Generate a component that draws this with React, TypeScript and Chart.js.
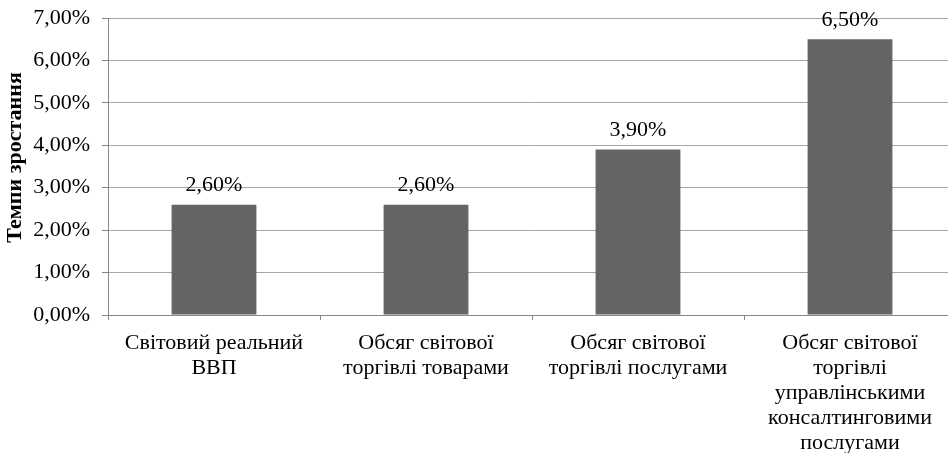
import React, { useEffect, useRef } from "react";
import { Chart, registerables } from "chart.js";

Chart.register(...registerables);

const categories: string[][] = [
  ["Світовий реальний", "ВВП"],
  ["Обсяг світової", "торгівлі товарами"],
  ["Обсяг світової", "торгівлі послугами"],
  ["Обсяг світової", "торгівлі", "управлінськими", "консалтинговими", "послугами"],
];
const growthValues: number[] = [2.6, 2.6, 3.9, 6.5];
const yAxisTitle = "Темпи зростання";
const yMin = 0;
const yMax = 7;
const yStep = 1;

const fmt = (v: number) => v.toFixed(2).replace(".", ",") + "%";

const FONT_FAMILY = "'Liberation Serif', 'Times New Roman', serif";
const FONT_SIZE = 22;

const valueLabels = {
  id: "valueLabels",
  afterDatasetsDraw(chart: any) {
    const ctx = chart.ctx;
    const meta = chart.getDatasetMeta(0);
    ctx.save();
    ctx.font = `${FONT_SIZE}px ${FONT_FAMILY}`;
    ctx.fillStyle = "#000";
    ctx.textAlign = "center";
    ctx.textBaseline = "middle";
    meta.data.forEach((bar: any, i: number) => {
      ctx.fillText(fmt(growthValues[i]), bar.x, bar.y - 19);
    });
    ctx.restore();
  },
};

const axisTitle = {
  id: "axisTitle",
  afterDraw(chart: any) {
    const ctx = chart.ctx;
    const area = chart.chartArea;
    ctx.save();
    ctx.font = `bold 22px ${FONT_FAMILY}`;
    ctx.fillStyle = "#000";
    ctx.textAlign = "center";
    ctx.textBaseline = "middle";
    ctx.translate(15, (area.top + area.bottom) / 2 - 9);
    ctx.rotate(-Math.PI / 2);
    ctx.fillText(yAxisTitle, 0, 0);
    ctx.restore();
  },
};

export default function App() {
  const ref = useRef<HTMLCanvasElement>(null);
  useEffect(() => {
    if (!ref.current) return;
    const chart = new Chart(ref.current, {
      type: "bar",
      data: {
        labels: categories,
        datasets: [
          {
            data: growthValues,
            backgroundColor: "#646464",
            borderWidth: 0,
            barPercentage: 0.4,
            categoryPercentage: 1,
          },
        ],
      },
      options: {
        responsive: false,
        animation: false,
        devicePixelRatio: 1,
        layout: { padding: { top: 18, right: 4, left: 0, bottom: 0 } },
        plugins: {
          legend: { display: false },
          tooltip: { enabled: false },
          title: { display: false },
        },
        scales: {
          x: {
            grid: {
              drawOnChartArea: false,
              drawTicks: true,
              tickLength: 5,
              color: "#868686",
              offset: true,
            },
            border: { color: "#868686", width: 1 },
            ticks: {
              color: "#000",
              padding: 11,
              maxRotation: 0,
              autoSkip: false,
              font: { family: FONT_FAMILY, size: FONT_SIZE, lineHeight: 25 / 22 },
            },
            afterFit(scale: any) {
              scale.height = 138;
              scale.paddingLeft = 0;
              scale.paddingRight = 0;
            },
          },
          y: {
            min: yMin,
            max: yMax,
            grid: {
              color: "#a6a6a6",
              tickLength: 6,
              tickColor: "#868686",
            },
            border: { color: "#868686", width: 1 },
            ticks: {
              stepSize: yStep,
              color: "#000",
              padding: 12,
              font: { family: FONT_FAMILY, size: FONT_SIZE },
              callback: (v: any) => fmt(Number(v)),
            },
            title: { display: false },
            afterFit(scale: any) {
              scale.width = 108;
              scale.paddingTop = 0;
              scale.paddingBottom = 0;
            },
          },
        },
      },
      plugins: [valueLabels, axisTitle],
    });
    return () => chart.destroy();
  }, []);
  return (
    <div
      style={{
        position: "fixed",
        left: 0,
        top: 0,
        width: 948,
        height: 453,
        overflow: "hidden",
        background: "#fff",
      }}
    >
      <canvas ref={ref} width={960} height={453} style={{ width: 960, height: 453, display: "block" }} />
    </div>
  );
}
